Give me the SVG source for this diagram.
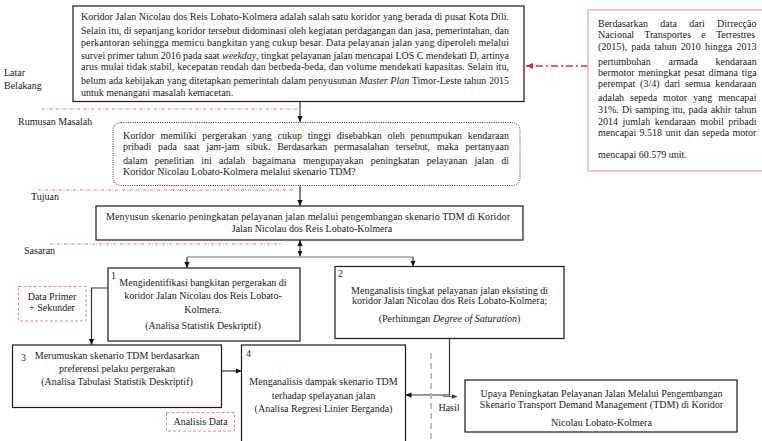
<svg xmlns="http://www.w3.org/2000/svg" width="762" height="441" viewBox="0 0 762 441">
<defs>
<style>
text{font-family:"Liberation Serif","Times New Roman",serif;font-size:10px;fill:#1a1a1a}
.box{fill:#fff;stroke:#1a1a1a;stroke-width:1.2}
.rbox{fill:#fff;stroke:#333;stroke-width:1;stroke-dasharray:1 1.3}
.pinkbox{fill:#fff;stroke:#e8a2a8;stroke-width:1.2}
.pdash{fill:#fff;stroke:#e58a90;stroke-width:1;stroke-dasharray:3 2}
.sep{stroke:#e57b7b;stroke-width:1;stroke-dasharray:3 1.5 1 1.5;fill:none}
.con{stroke:#333;stroke-width:1.2;fill:none}
.bar{stroke:#777;stroke-width:1.2;fill:none}
.c{text-anchor:middle}
.i{font-style:italic}
</style>
<marker id="arr" viewBox="0 0 8 8" refX="8" refY="4" markerWidth="6" markerHeight="6" markerUnits="userSpaceOnUse" orient="auto-start-reverse"><path d="M0,0.5 L8,4 L0,7.5 z" fill="#111"/></marker>
<marker id="arrs" viewBox="0 0 8 8" refX="8" refY="4" markerWidth="5" markerHeight="5" markerUnits="userSpaceOnUse" orient="auto"><path d="M0,0.5 L8,4 L0,7.5 z" fill="#333"/></marker>
<marker id="arrRed" viewBox="0 0 8 8" refX="8" refY="4" markerWidth="7" markerHeight="7" markerUnits="userSpaceOnUse" orient="auto"><path d="M0,0.5 L8,4 L0,7.5 z" fill="#e8262c"/></marker>
</defs>
<rect x="0" y="0" width="762" height="441" fill="#fff"/>

<g id="sections">
<line class="sep" x1="42" y1="109" x2="297" y2="109"/>
<line class="sep" x1="38" y1="190" x2="293" y2="190"/>
<line class="sep" x1="50" y1="244" x2="282" y2="244"/>
<text x="4" y="76">Latar</text>
<text x="4" y="88.5">Belakang</text>
<text x="18" y="125">Rumusan Masalah</text>
<text x="31" y="200">Tujuan</text>
<text x="24" y="254">Sasaran</text>
</g>

<g id="connectors">
<line class="con" x1="300" y1="101.5" x2="300" y2="122" marker-end="url(#arr)"/>
<line class="con" x1="300" y1="185.5" x2="300" y2="206" marker-end="url(#arr)"/>
<line class="con" x1="300" y1="240" x2="300" y2="256.5" marker-start="url(#arr)" marker-end="url(#arr)"/>
<line class="bar" x1="187" y1="257" x2="413" y2="257"/>
<line class="con" x1="187" y1="257" x2="187" y2="268" marker-end="url(#arr)"/>
<line class="con" x1="413" y1="257" x2="413" y2="266.5" marker-end="url(#arr)"/>
<polyline class="con" points="108,288 91.5,288 91.5,345" marker-end="url(#arr)"/>
<line class="con" x1="222" y1="371" x2="241.5" y2="371" marker-end="url(#arr)"/>
<polyline class="con" points="449.5,338.5 449.5,395 405.5,395" marker-end="url(#arr)"/>
<line x1="443" y1="396.5" x2="457" y2="396.5" stroke="#777" stroke-width="1.2" marker-end="url(#arrs)"/>
<line x1="431" y1="353" x2="431" y2="441" stroke="#aaa" stroke-width="1.5" stroke-dasharray="6 4"/>
<line x1="588" y1="66" x2="526" y2="66" stroke="#e8262c" stroke-width="1.5" stroke-dasharray="7 3 2 3" marker-end="url(#arrRed)"/>
</g>

<g id="node-latar-belakang">
<rect class="box" x="73" y="6" width="451" height="95.5"/>
<text x="81" y="19.5" textLength="428" lengthAdjust="spacing">Koridor Jalan Nicolau dos Reis Lobato-Kolmera adalah salah satu koridor yang berada di pusat Kota Dili.</text>
<text x="81" y="34" textLength="428" lengthAdjust="spacing">Selain itu, di sepanjang koridor tersebut didominasi oleh kegiatan perdagangan dan jasa, pemerintahan, dan</text>
<text x="81" y="45.5" textLength="428" lengthAdjust="spacing">perkantoran sehingga memicu bangkitan yang cukup besar. Data pelayanan jalan yang diperoleh melalui</text>
<text x="81" y="59" textLength="428" lengthAdjust="spacing">survei primer tahun 2016 pada saat <tspan class="i">weekday</tspan>, tingkat pelayanan jalan mencapai LOS C mendekati D, artinya</text>
<text x="81" y="70" textLength="428" lengthAdjust="spacing">arus mulai tidak stabil, kecepatan rendah dan berbeda-beda, dan volume mendekati kapasitas. Selain itu,</text>
<text x="81" y="83.5" textLength="428" lengthAdjust="spacing">belum ada kebijakan yang ditetapkan pemerintah dalam penyusunan <tspan class="i">Master Plan</tspan> Timor-Leste tahun 2015</text>
<text x="81" y="95.5">untuk menangani masalah kemacetan.</text>
</g>

<g id="node-data-dnte">
<rect class="pinkbox" x="588" y="10" width="180" height="161"/>
<text x="598" y="26.5" word-spacing="9.8">Berdasarkan data dari Dirrecção</text>
<text x="598" y="38" word-spacing="7.8">Nacional Transportes e Terrestres</text>
<text x="598" y="49.5" word-spacing="1.7">(2015), pada tahun 2010 hingga 2013</text>
<text x="598" y="64.5" word-spacing="15.2">pertumbuhan armada kendaraan</text>
<text x="598" y="75.5" word-spacing="1.2">bermotor meningkat pesat dimana tiga</text>
<text x="598" y="86.5" word-spacing="2.4">perempat (3/4) dari semua kendaraan</text>
<text x="598" y="101" word-spacing="3.4">adalah sepeda motor yang mencapai</text>
<text x="598" y="112.5" word-spacing="0.7">31%. Di samping itu, pada akhir tahun</text>
<text x="598" y="125" word-spacing="2">2014 jumlah kendaraan mobil pribadi</text>
<text x="598" y="136" word-spacing="0.8">mencapai 9.518 unit dan sepeda motor</text>
<text x="598" y="158">mencapai 60.579 unit.</text>
</g>

<g id="node-rumusan">
<rect class="rbox" x="113" y="122.5" width="407" height="63" rx="8"/>
<text x="123" y="139" word-spacing="3.2" textLength="386" lengthAdjust="spacing">Koridor memiliki pergerakan yang cukup tinggi disebabkan oleh penumpukan kendaraan</text>
<text x="123" y="150" word-spacing="4.3" textLength="386" lengthAdjust="spacing">pribadi pada saat jam-jam sibuk. Berdasarkan permasalahan tersebut, maka pertanyaan</text>
<text x="123" y="164" word-spacing="4.7" textLength="386" lengthAdjust="spacing">dalam penelitian ini adalah bagaimana mengupayakan peningkatan pelayanan jalan di</text>
<text x="123" y="175">Koridor Nicolau Lobato-Kolmera melalui skenario TDM?</text>
</g>

<g id="node-tujuan">
<rect class="box" x="96" y="206" width="427" height="34"/>
<text class="c" x="308" y="220" textLength="404" lengthAdjust="spacing">Menyusun skenario peningkatan pelayanan jalan melalui pengembangan skenario TDM di Koridor</text>
<text class="c" x="312" y="232">Jalan Nicolau dos Reis Lobato-Kolmera</text>
</g>

<g id="node-1">
<rect class="box" x="108" y="268" width="192" height="73"/>
<text x="111" y="278.5">1</text>
<text class="c" x="203" y="286">Mengidentifikasi bangkitan pergerakan di</text>
<text class="c" x="203" y="298.5">koridor Jalan Nicolau dos Reis Lobato-</text>
<text class="c" x="203" y="312.5">Kolmera.</text>
<text class="c" x="203" y="329">(Analisa Statistik Deskriptif)</text>
</g>

<g id="node-2">
<rect class="box" x="335" y="266.5" width="229" height="72"/>
<text x="338" y="277">2</text>
<text class="c" x="449.5" y="293.5">Menganalisis tingkat pelayanan jalan eksisting di</text>
<text class="c" x="449.5" y="303.5">koridor Jalan Nicolau dos Reis Lobato-Kolmera;</text>
<text class="c" x="449.5" y="322">(Perhitungan <tspan class="i">Degree of Saturation</tspan>)</text>
</g>

<g id="node-data-primer">
<rect class="pdash" x="18.5" y="286.5" width="67.5" height="34.5"/>
<text class="c" x="52" y="299.5">Data Primer</text>
<text class="c" x="52" y="311">+ Sekunder</text>
</g>

<g id="node-3">
<rect class="box" x="12.5" y="345" width="209" height="62.5"/>
<text x="21" y="361">3</text>
<text class="c" x="117" y="358.5">Merumuskan skenario TDM berdasarkan</text>
<text class="c" x="117" y="372">preferensi pelaku pergerakan</text>
<text class="c" x="117" y="385">(Analisa Tabulasi Statistik Deskriptif)</text>
</g>

<g id="node-analisis-data">
<rect class="pdash" x="166.5" y="412.5" width="68" height="18.5"/>
<text class="c" x="200.5" y="425">Analisis Data</text>
</g>

<g id="node-4">
<rect class="box" x="241.5" y="345" width="164" height="110"/>
<text x="246" y="357">4</text>
<text class="c" x="323.5" y="385">Menganalisis dampak skenario TDM</text>
<text class="c" x="323.5" y="398.5">terhadap spelayanan jalan</text>
<text class="c" x="323.5" y="412">(Analisa Regresi Linier Berganda)</text>
</g>

<g id="label-hasil">
<text class="c" x="449" y="411">Hasil</text>
</g>

<g id="node-hasil">
<rect class="box" x="465" y="380" width="272" height="52"/>
<text class="c" x="601.5" y="396.5">Upaya Peningkatan Pelayanan Jalan Melalui Pengembangan</text>
<text class="c" x="601.5" y="407.5">Skenario Transport Demand Management (TDM) di Koridor</text>
<text class="c" x="601.5" y="425.5">Nicolau Lobato-Kolmera</text>
</g>
</svg>
